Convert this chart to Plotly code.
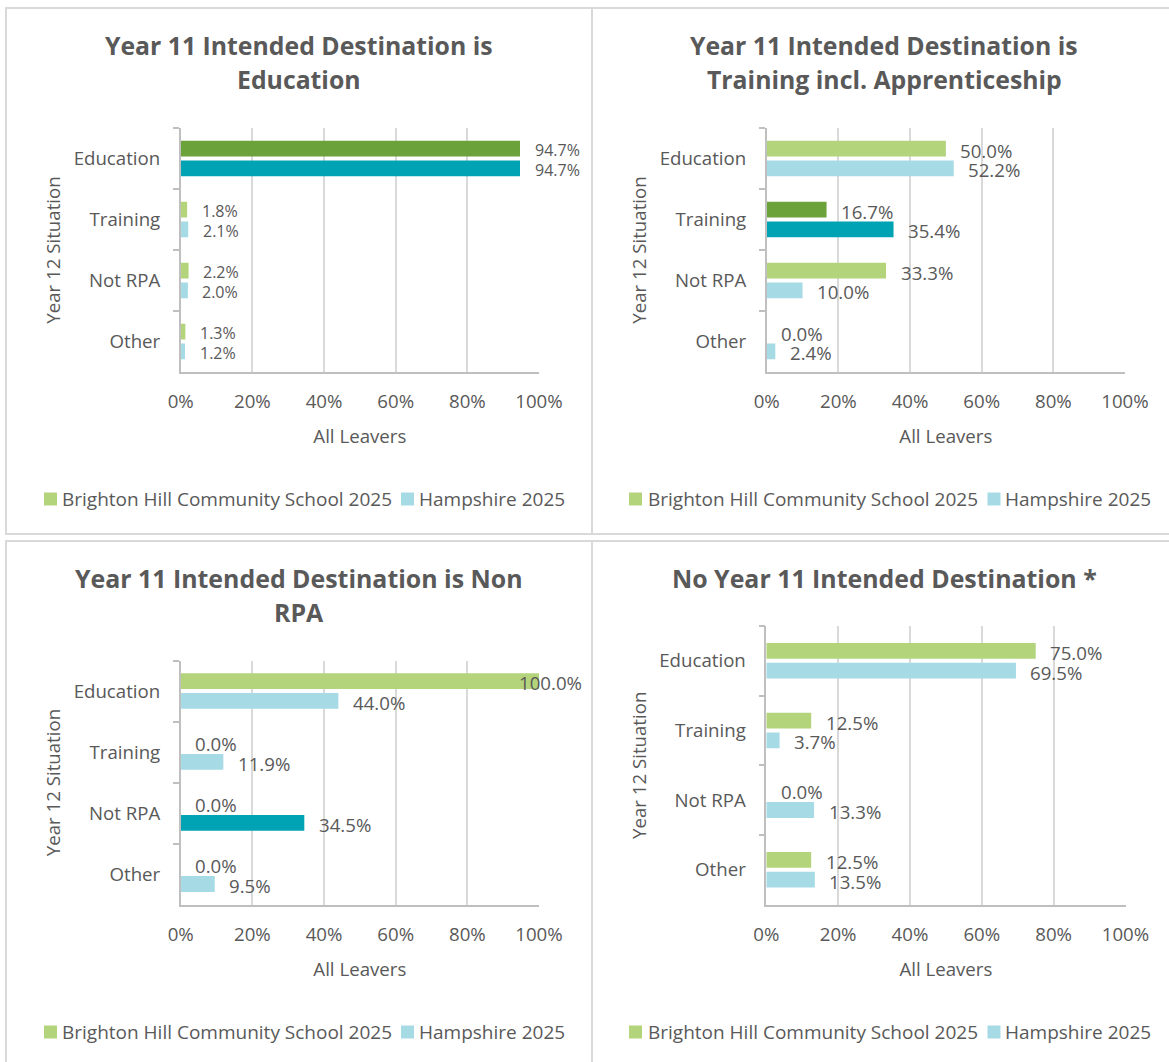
import plotly.graph_objects as go

W, H = 1169, 1062

# ---------------- data ----------------
categories = ["Education", "Training", "Not RPA", "Other"]
series_names = ["Brighton Hill Community School 2025", "Hampshire 2025"]

titles = [
    ["Year 11 Intended Destination is", "Education"],
    ["Year 11 Intended Destination is", "Training incl. Apprenticeship"],
    ["Year 11 Intended Destination is Non", "RPA"],
    ["No Year 11 Intended Destination *"],
]

school_education = [94.7, 1.8, 2.2, 1.3]
hampshire_education = [94.7, 2.1, 2.0, 1.2]
school_training = [50.0, 16.7, 33.3, 0.0]
hampshire_training = [52.2, 35.4, 10.0, 2.4]
school_nonrpa = [100.0, 0.0, 0.0, 0.0]
hampshire_nonrpa = [44.0, 11.9, 34.5, 9.5]
school_none = [75.0, 12.5, 0.0, 12.5]
hampshire_none = [69.5, 3.7, 13.3, 13.5]

highlight = ["Education", "Training", "Not RPA", None]

x_tick_vals = [0, 20, 40, 60, 80, 100]
x_tick_labels = ["0%", "20%", "40%", "60%", "80%", "100%"]
x_title = "All Leavers"
y_title = "Year 12 Situation"

school_series = [school_education, school_training, school_nonrpa, school_none]
hampshire_series = [hampshire_education, hampshire_training, hampshire_nonrpa, hampshire_none]

# ---------------- style ----------------
LIGHT_GREEN = "#B4D47C"
DARK_GREEN = "#6CA23A"
LIGHT_BLUE = "#A6DAE5"
DARK_BLUE = "#00A3B4"
TEXT = "#595959"
GRID = "#D9D9D9"
AXIS = "#BFBFBF"
BORDER = "#D9D9D9"
FONT = "Open Sans"

BAR_PX = 15.8
GAP_PX = 4.0
LABEL_GAP = 12.5
SW = 13  # legend swatch size (px)

# pixel layout for each panel
panels = [
    dict(box=(6, 8, 592, 534), plot=(180.7, 128, 539, 372), title_y=[45, 79], title_size=24.8,
         leg_y=499, leg_sw=[44, 401], leg_tx=[61.7, 419], label_size=16),
    dict(box=(592, 8, 1177, 534), plot=(766.7, 128, 1125, 372), title_y=[45, 79], title_size=24.8,
         leg_y=499, leg_sw=[629, 987.5], leg_tx=[647.6, 1005], label_size=18.67),
    dict(box=(6, 541, 592, 1067), plot=(180.7, 660.5, 539, 904.6), title_y=[578, 612], title_size=24.9,
         leg_y=1032, leg_sw=[44, 401], leg_tx=[61.7, 419], label_size=18.67),
    dict(box=(592, 541, 1177, 1067), plot=(766.3, 626, 1125.5, 904.6), title_y=[578], title_size=24.9,
         leg_y=1032, leg_sw=[629, 987.5], leg_tx=[647.6, 1005], label_size=18.67),
]


def fx(px):
    return px / W


def fy(py):
    return 1 - py / H


def est_width(text, size):
    w = 0
    for ch in text:
        if ch.isdigit():
            w += 0.572
        elif ch == ".":
            w += 0.267
        elif ch == "%":
            w += 0.823
        else:
            w += 0.6
    return w * size


fig = go.Figure()
annotations = []
shapes = []

for k, p in enumerate(panels):
    idx = "" if k == 0 else str(k + 1)
    xa, ya = "x" + idx, "y" + idx
    x0, y0, x1, y1 = p["plot"]
    band = (y1 - y0) / len(categories)
    w = BAR_PX / band
    g = GAP_PX / 2 / band
    px_per = (x1 - x0) / 100.0

    hl = highlight[k]
    school_colors = [DARK_GREEN if c == hl else LIGHT_GREEN for c in categories]
    hants_colors = [DARK_BLUE if c == hl else LIGHT_BLUE for c in categories]

    fig.add_trace(go.Bar(
        x=school_series[k], y=categories, orientation="h",
        marker=dict(color=school_colors, line=dict(width=0)),
        width=w, offset=-(g + w), name=series_names[0],
        xaxis=xa, yaxis=ya, showlegend=False, hoverinfo="x+y"))
    fig.add_trace(go.Bar(
        x=hampshire_series[k], y=categories, orientation="h",
        marker=dict(color=hants_colors, line=dict(width=0)),
        width=w, offset=g, name=series_names[1],
        xaxis=xa, yaxis=ya, showlegend=False, hoverinfo="x+y"))

    # data labels
    bx0, by0, bx1, by1 = p["box"]
    limit = bx1 - 8
    for vals, off in [(school_series[k], -(g + w / 2)), (hampshire_series[k], g + w / 2)]:
        for i, v in enumerate(vals):
            txt = f"{v:.1f}%"
            tw = est_width(txt, p["label_size"])
            left_px = x0 + v * px_per + LABEL_GAP
            if left_px + tw > limit:
                anchor_v = min(v, 100)
                ax_x, anchor, shift = anchor_v, "right", limit - (x0 + anchor_v * px_per)
            else:
                ax_x, anchor, shift = v, "left", LABEL_GAP
            annotations.append(dict(
                x=ax_x, y=i + off, xref=xa, yref=ya, text=txt, showarrow=False,
                xanchor=anchor, yanchor="middle", xshift=shift, yshift=-1.5,
                font=dict(family=FONT, size=p["label_size"], color=TEXT)))

    # titles
    cx = (bx0 + bx1) / 2
    for line, ty in zip(titles[k], p["title_y"]):
        annotations.append(dict(
            x=fx(cx), y=fy(ty), xref="paper", yref="paper", text=line, showarrow=False,
            xanchor="center", yanchor="middle",
            font=dict(family=FONT, size=p["title_size"], color=TEXT, weight=700)))

    # legend (swatch + text)
    for nm, col, sx, tx in zip(series_names, [LIGHT_GREEN, LIGHT_BLUE], p["leg_sw"], p["leg_tx"]):
        shapes.append(dict(type="rect", xref="paper", yref="paper",
                           x0=fx(sx), x1=fx(sx + SW),
                           y0=fy(p["leg_y"] + SW / 2), y1=fy(p["leg_y"] - SW / 2),
                           line=dict(width=0), fillcolor=col))
        annotations.append(dict(
            x=fx(tx), y=fy(p["leg_y"]), xref="paper", yref="paper", text=nm,
            showarrow=False, xanchor="left", yanchor="middle", xshift=-2,
            font=dict(family=FONT, size=19, color=TEXT)))

    # border
    shapes.append(dict(type="rect", xref="paper", yref="paper",
                       x0=fx(bx0), x1=fx(bx1), y0=fy(by1), y1=fy(by0),
                       line=dict(color=BORDER, width=2), fillcolor="rgba(0,0,0,0)",
                       layer="below"))

    xkey = "xaxis" + idx
    ykey = "yaxis" + idx
    fig.update_layout({
        xkey: dict(
            domain=[fx(x0), fx(x1)], anchor=ya, range=[0, 100],
            tickvals=x_tick_vals, ticktext=x_tick_labels,
            showgrid=True, gridcolor=GRID, gridwidth=1.5,
            showline=True, linecolor=AXIS, linewidth=1.5, zeroline=False,
            ticks="", ticklabelstandoff=12,
            tickfont=dict(family=FONT, size=18.67, color=TEXT),
            title=dict(text=x_title, standoff=18,
                       font=dict(family=FONT, size=18.67, color=TEXT)),
            fixedrange=True, automargin=False),
        ykey: dict(
            domain=[fy(y1), fy(y0)], anchor=xa, type="category",
            categoryorder="array", categoryarray=categories, autorange="reversed",
            tickson="boundaries", ticks="outside", ticklen=6, tickcolor=AXIS, tickwidth=1.5,
            showline=True, linecolor=AXIS, linewidth=1.5, showgrid=False, zeroline=False,
            ticklabelstandoff=15,
            tickfont=dict(family=FONT, size=18.67, color=TEXT),
            title=dict(text=y_title, standoff=8,
                       font=dict(family=FONT, size=18.67, color=TEXT)),
            fixedrange=True, automargin=False),
    })

fig.update_layout(
    width=W, height=H, margin=dict(l=0, r=0, t=0, b=0, autoexpand=False),
    paper_bgcolor="white", plot_bgcolor="white",
    barmode="overlay", showlegend=False,
    annotations=annotations, shapes=shapes,
    font=dict(family=FONT, color=TEXT),
)

fig.write_html("out.html", config={"displayModeBar": False},
               post_script="document.body.style.margin='0';")
